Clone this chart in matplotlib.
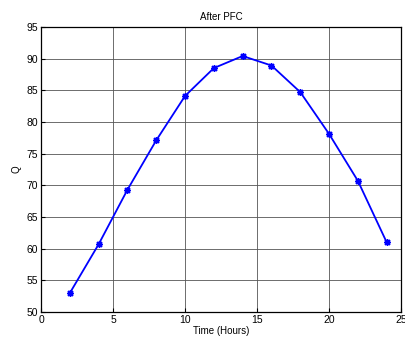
"""Recreate the 'After PFC' Q vs time plot."""

import matplotlib

matplotlib.use("Agg")
import matplotlib.pyplot as plt

hours = [2, 4, 6, 8, 10, 12, 14, 16, 18, 20, 22, 24]
q_values = [53.0, 60.7, 69.3, 77.1, 84.1, 88.5, 90.4, 88.9, 84.7, 78.1, 70.7, 61.0]

x_ticks = [0, 5, 10, 15, 20, 25]
y_ticks = [50, 55, 60, 65, 70, 75, 80, 85, 90, 95]

plt.rcParams["font.family"] = ["Liberation Sans", "DejaVu Sans"]

fig = plt.figure(figsize=(4.06, 3.4), dpi=100)
ax = fig.add_axes([0.101, 0.082, 0.887, 0.839])

ax.plot(hours, q_values, color="#0000ff", linewidth=1.3,
        marker=(8, 2, 0), markersize=5, markeredgewidth=1.0)

ax.set_xlim(0, 25)
ax.set_ylim(50, 95)
ax.set_xticks(x_ticks)
ax.set_yticks(y_ticks)
ax.grid(True, color="#555555", linewidth=0.6, linestyle="-")
ax.set_axisbelow(True)
ax.tick_params(direction="in", length=3, labelsize=7.5, pad=2)
for s in ax.spines.values():
    s.set_linewidth(0.9)

ax.set_title("After PFC", fontsize=7, pad=5)
ax.set_xlabel("Time (Hours)", fontsize=7, labelpad=1)
ax.set_ylabel("Q", fontsize=7, labelpad=4)

fig.savefig("out.png", dpi=100)
plt.close(fig)
